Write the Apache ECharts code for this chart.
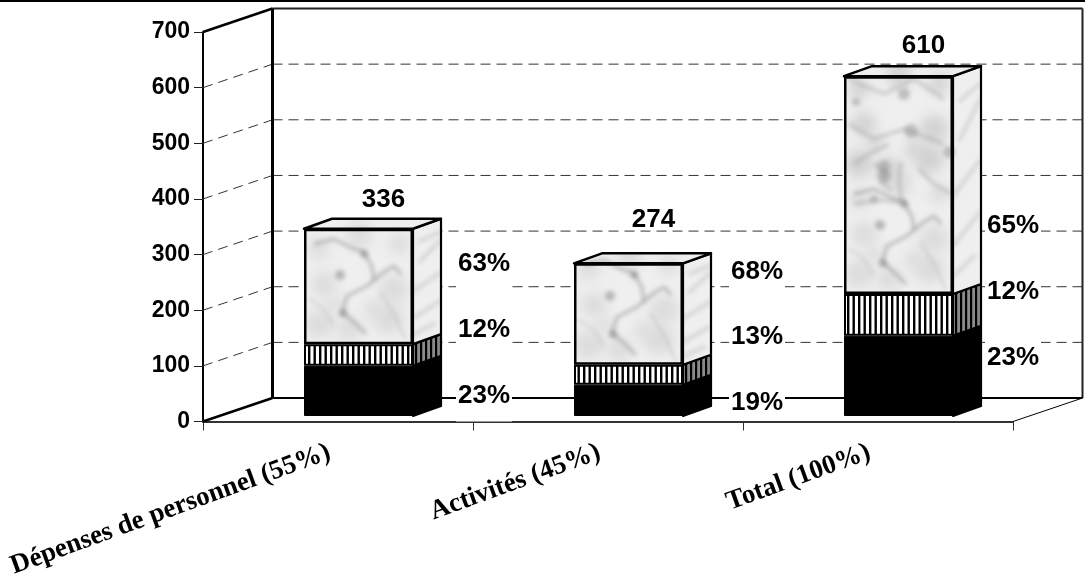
<!DOCTYPE html>
<html><head><meta charset="utf-8">
<style>html,body{margin:0;padding:0;background:#fff}#c{width:1085px;height:581px}</style>
<script src="https://cdn.jsdelivr.net/npm/echarts@6/dist/echarts.min.js"></script>
</head><body><div id="c"></div>
<script>
// ---- data ----
const categories = ['Dépenses de personnel (55%)', 'Activités (45%)', 'Total (100%)'];
const valueTicks = [100, 200, 300, 400, 500, 600];
const blackValues = [90, 56, 144];
const stripedValues = [39, 36, 75];
const marbleValues = [207, 182, 391];
const totalLabels = ['336', '274', '610'];
const blackPercents = ['23%', '19%', '23%'];
const stripedPercents = ['12%', '13%', '12%'];
const marblePercents = ['63%', '68%', '65%'];

// ---- layout and style ----
const FONT = '"Liberation Sans", Arial, sans-serif';
const WALL = [69.5, -23.5], BAR_DEPTH = [28, -10], BAR_HALF = 54.5;
const PCT_DX = [125.5, 128.5, 114.5], BOX_HALF = [26, 18, 18];
const NUDGE_MARBLE = [-22.5, -42, 40.5], NUDGE_STRIPED = [-25.5, -37.5, -23.5], NUDGE_BLACK = [4.5, 2, -18.5];
const NUDGE_TOTAL = [-29, -44, -30];

// ---- textures ----
function stripes(w, h, bg, fg, period, bar) {
  const c = document.createElement('canvas'); c.width = w; c.height = h;
  const g = c.getContext('2d'); g.fillStyle = bg; g.fillRect(0, 0, w, h);
  g.fillStyle = fg;
  for (let x = 0; x < w - 0.01; x += period) g.fillRect(x, 0, bar, h);
  return c;
}
const CLOUDS = [[15,20,14],[45,15,12],[85,25,15],[20,60,12],[90,55,14],[15,95,10],[55,110,13],[95,100,10],[70,35,9],[30,40,8]];
const VEINS = [
  [[10,100],[30,105],[50,95],[60,92],[68,77],[70,64],[63,58],[43,48]],
  [[70,64],[80,72],[90,78],[97,70]],
  [[43,48],[38,32],[50,22],[62,10]],
  [[76,52],[90,30],[102,4]],
  [[5,45],[20,35],[30,18]]
];
const BLOTS = [[36,69,5],[39,31,4],[60,90,4]];
const TALL_VEINS = [
  [[57,132],[55,112],[58,92]],[[10,90],[35,94],[60,92]],
  [[30,130],[42,122],[38,110],[48,104]],
  [[5,170],[30,155],[60,165],[100,150]],
  [[5,215],[40,200],[70,215],[100,195]],
  [[10,130],[25,140],[45,150]],
  [[75,125],[90,110],[108,100]]
];
const TALL_BLOTS = [[12,192,4],[67,163,7],[105,142,6],[40,118,7],[40,128,6],[30,95,4],[60,200,6]];
const SIDE_STREAKS = [[0.0,0.78,1,0.62],[0,0.55,1,0.38],[0.2,0.3,1,0.1],[0,0.92,0.8,0.82],[0.2,0.12,1,0.03]];
// [left, bottom, width, height] of each marble block on the page
const MARBLE_AT = [[304,344,109,116],[574,365,109,103],[844,294,109,218]];

function marbleCanvas() {
  const c = document.createElement('canvas'); c.width = 1085; c.height = 581;
  const g = c.getContext('2d');
  g.fillStyle = '#efefef'; g.fillRect(0, 0, 1085, 581);
  MARBLE_AT.forEach(([x, b, w, h], i) => {
    const stroke = (pts, col, lw) => {
      g.strokeStyle = col; g.lineWidth = lw; g.lineJoin = 'round'; g.beginPath();
      pts.forEach((p, k) => k ? g.lineTo(x + p[0], b - p[1]) : g.moveTo(x + p[0], b - p[1]));
      g.stroke();
    };
    const dot = (p, col) => { g.fillStyle = col; g.beginPath(); g.arc(x + p[0], b - p[1], p[2], 0, 7); g.fill(); };
    g.save();
    g.beginPath(); g.rect(x - 2, b - h - 14, w + 34, h + 18); g.clip();
    g.filter = 'blur(6px)';
    CLOUDS.forEach(p => dot(p, '#dcdcdc'));
    if (i === 2) CLOUDS.forEach(p => { dot([p[0], p[1] + 110, p[2]], '#d2d2d2'); });
    g.filter = 'blur(2.2px)';
    VEINS.forEach((v, k) => stroke(v, k < 3 ? 'rgba(130,130,130,.5)' : 'rgba(170,170,170,.35)', k < 3 ? 3 : 2.5));
    BLOTS.forEach(p => dot(p, 'rgba(130,130,130,.5)'));
    if (i === 2) {
      TALL_VEINS.forEach(v => stroke(v, 'rgba(150,150,150,.4)', 3.5));
      TALL_BLOTS.forEach(p => dot(p, 'rgba(145,145,145,.5)'));
    }
    // side-face streaks
    g.filter = 'blur(2px)';
    g.strokeStyle = 'rgba(160,160,160,.4)'; g.lineWidth = 3;
    SIDE_STREAKS.forEach(s => {
      g.beginPath();
      g.moveTo(x + w + s[0] * 28, b - h + s[1] * h);
      g.lineTo(x + w + s[2] * 28, b - h + s[3] * h);
      g.stroke();
    });
    g.restore();
  });
  return c;
}
const marbleFill = { image: marbleCanvas(), repeat: 'repeat' };
const stripeFront = { image: stripes(11, 8, '#fff', '#000', 5.5, 2.4), repeat: 'repeat' };
const stripeSide = { image: stripes(10, 8, '#8a8a8a', '#000', 5, 2.2), repeat: 'repeat' };

const chart = echarts.init(document.getElementById('c'), null, { renderer: 'canvas' });

// back wall, floor and dashed lines
function renderWall(params, api) {
  const cs = params.coordSys, L = cs.x, R = cs.x + cs.width;
  const line = (x1, y1, x2, y2, style) => ({
    type: 'line', shape: { x1, y1, x2, y2 },
    style: Object.assign({ stroke: '#000', fill: null }, style)
  });
  const y = api.coord([0, api.value(1)])[1];
  const dash = { stroke: '#333', lineWidth: 1, lineDash: [10, 6] };
  return { type: 'group', children: [
    line(L, y, L + WALL[0], y + WALL[1], dash),
    line(L + WALL[0], y + WALL[1], R + WALL[0], y + WALL[1], dash)
  ]};
}
function renderFrame(params, api) {
  const cs = params.coordSys, L = cs.x, R = cs.x + cs.width, T = cs.y, B = cs.y + cs.height;
  const line = (x1, y1, x2, y2, lineWidth, stroke) => ({
    type: 'line', shape: { x1, y1, x2, y2 }, style: { stroke: stroke || '#000', lineWidth, fill: null }
  });
  const bx = L + WALL[0], tb = T + WALL[1], bb = B + WALL[1], rx = R + WALL[0];
  return { type: 'group', children: [
    line(L, T, bx, tb, 2.5),
    line(bx, tb, rx, tb, 2, '#222'),
    line(bx, tb, bx, bb, 3),
    line(rx, tb, rx, bb, 2, '#222'),
    line(bx, bb, rx, bb, 2),
    line(L, B, bx, bb, 2.5),
    line(R, B, rx, bb, 1)
  ]};
}
// side and top of each stacked block
function renderFaces(params, api) {
  const cat = api.value(0), lo = api.value(1), hi = api.value(2), kind = api.value(3);
  const pLo = api.coord([cat, lo]), pHi = api.coord([cat, hi]);
  const xr = pLo[0] + BAR_HALF, xl = pLo[0] - BAR_HALF;
  const dx = BAR_DEPTH[0], dy = BAR_DEPTH[1];
  const fills = [{ fill: '#000' }, { fill: stripeSide }, { fill: marbleFill }];
  const kids = [{
    type: 'polygon',
    shape: { points: [[xr, pLo[1]], [xr + dx, pLo[1] + dy], [xr + dx, pHi[1] + dy], [xr, pHi[1]]] },
    style: Object.assign({ stroke: '#000', lineWidth: 2.2, lineJoin: 'round' }, fills[kind])
  }];
  if (kind === 2) kids.push({
    type: 'polygon',
    shape: { points: [[xl, pHi[1]], [xl + dx, pHi[1] + dy], [xr + dx, pHi[1] + dy], [xr, pHi[1]]] },
    style: { fill: marbleFill, stroke: '#000', lineWidth: 2.5, lineJoin: 'round' }
  });
  return { type: 'group', children: kids };
}
// white-backed percentage labels and totals
function renderLabels(params, api) {
  const cat = api.value(0), lo = api.value(1), hi = api.value(2), kind = api.value(3);
  const pLo = api.coord([cat, lo]), pHi = api.coord([cat, hi]);
  const nudge = [NUDGE_BLACK, NUDGE_STRIPED, NUDGE_MARBLE][kind][cat];
  const txt = [blackPercents, stripedPercents, marblePercents][kind][cat];
  const cx = pLo[0] + PCT_DX[cat], cy = (pLo[1] + pHi[1]) / 2 + nudge, hh = BOX_HALF[cat];
  const kids = [
    { type: 'rect', shape: { x: cx - 28, y: cy - hh, width: 56, height: hh * 2 }, style: { fill: '#fff' } },
    { type: 'text', x: cx, y: cy, style: { text: txt, fill: '#000', font: 'bold 26px ' + FONT, textAlign: 'center', textVerticalAlign: 'middle' } }
  ];
  if (kind === 2) kids.push({
    type: 'text', x: pHi[0] + 25, y: pHi[1] + NUDGE_TOTAL[cat],
    style: { text: totalLabels[cat], fill: '#000', font: 'bold 26px ' + FONT, textAlign: 'center', textVerticalAlign: 'middle' }
  });
  return { type: 'group', children: kids };
}

const segments = [];
categories.forEach((_, i) => {
  const a = blackValues[i], b = a + stripedValues[i], c = b + marbleValues[i];
  segments.push([i, 0, a, 0], [i, a, b, 1], [i, b, c, 2]);
});
const barBase = { type: 'bar', stack: 'block', xAxisIndex: 1, yAxisIndex: 1, barWidth: BAR_HALF * 2, z: 3 };

chart.setOption({
  animation: false,
  backgroundColor: '#fff',
  grid: [
    { left: 203, right: 72, top: 32, bottom: 159 },
    { left: 223.5, right: 51.5, top: 26, bottom: 165 }
  ],
  xAxis: [
    { type: 'category', gridIndex: 0, data: categories,
      axisLine: { lineStyle: { color: '#333', width: 2 } },
      axisTick: { show: true, length: 9, lineStyle: { color: '#333', width: 1 } },
      axisLabel: { interval: 0, rotate: 20, margin: 27, padding: [0, 9, 0, 0], color: '#000', fontFamily: '"Liberation Serif", serif', fontWeight: 'bold', fontSize: 27 } },
    { type: 'category', gridIndex: 1, data: categories, show: false }
  ],
  yAxis: [
    { type: 'value', gridIndex: 0, min: 0, max: 700, interval: 100,
      axisLine: { show: true, lineStyle: { color: '#000', width: 2 } },
      axisTick: { show: true, length: 9, lineStyle: { color: '#222', width: 1 } },
      axisLabel: { margin: 13, padding: [6, 0, 0, 0], color: '#000', fontFamily: FONT, fontWeight: 'bold', fontSize: 23 },
      splitLine: { show: false } },
    { type: 'value', gridIndex: 1, min: 0, max: 700, interval: 100, show: false, splitLine: { show: false } }
  ],
  graphic: [{ type: 'rect', shape: { x: 0, y: 0, width: 1085, height: 2 }, style: { fill: '#000' } }],
  series: [
    { type: 'custom', name: 'wall lines', xAxisIndex: 0, yAxisIndex: 0, z: 1, clip: false, silent: true,
      renderItem: renderWall, data: valueTicks.map(v => [0, v]) },
    { type: 'custom', name: 'wall frame', xAxisIndex: 0, yAxisIndex: 0, z: 1, clip: false, silent: true,
      renderItem: renderFrame, data: [[0, 0]] },
    { type: 'custom', name: 'percent labels', xAxisIndex: 1, yAxisIndex: 1, z: 2, clip: false, silent: true,
      renderItem: renderLabels, data: segments },
    { type: 'custom', name: 'block faces', xAxisIndex: 1, yAxisIndex: 1, z: 3, clip: false, silent: true,
      renderItem: renderFaces, data: segments },
    Object.assign({ name: 'Black', data: blackValues, itemStyle: { color: '#000', borderColor: '#000', borderWidth: 1 } }, barBase),
    Object.assign({ name: 'Striped', data: stripedValues, itemStyle: { color: stripeFront, borderColor: '#000', borderWidth: 2 } }, barBase),
    Object.assign({ name: 'Marble', data: marbleValues, itemStyle: { color: marbleFill, borderColor: '#000', borderWidth: 2.5 } }, barBase)
  ]
});
</script></body></html>
